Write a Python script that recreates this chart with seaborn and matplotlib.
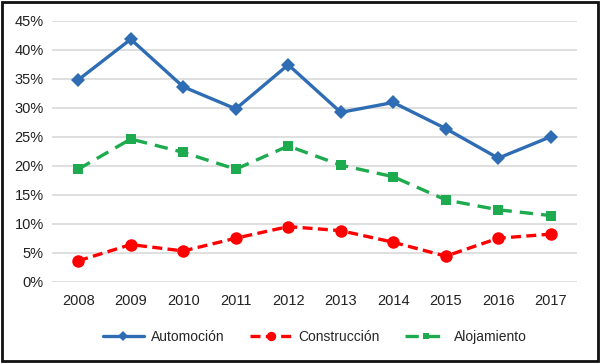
import matplotlib
matplotlib.use("Agg")
import matplotlib.pyplot as plt
import seaborn as sns
import pandas as pd
from matplotlib.patches import Rectangle
from matplotlib.ticker import PercentFormatter

years = ["2008", "2009", "2010", "2011", "2012", "2013", "2014", "2015", "2016", "2017"]
automocion = [34.8, 41.8, 33.6, 29.8, 37.4, 29.2, 30.9, 26.4, 21.3, 25.0]
construccion = [3.6, 6.4, 5.3, 7.5, 9.5, 8.8, 6.8, 4.4, 7.5, 8.2]
alojamiento = [19.4, 24.6, 22.3, 19.4, 23.4, 20.1, 18.1, 14.1, 12.4, 11.4]
series_names = ["Automoción", "Construcción", "Alojamiento"]

df = pd.concat(
    [
        pd.DataFrame({"year": years, "value": vals, "serie": name})
        for name, vals in zip(series_names, [automocion, construccion, alojamiento])
    ]
)

sns.set_style("white")
plt.rcParams["font.family"] = ["Liberation Sans Narrow", "Liberation Sans", "DejaVu Sans"]

fig = plt.figure(figsize=(6, 3.63), dpi=100)
ax = fig.add_axes([52 / 600, 1 - 281.7 / 363, 525 / 600, 261 / 363])

palette = {"Automoción": "#2E6DB4", "Construcción": "#FF0000", "Alojamiento": "#1EAA4E"}
sns.lineplot(
    data=df,
    x="year",
    y="value",
    hue="serie",
    style="serie",
    palette=palette,
    markers={"Automoción": "D", "Construcción": "o", "Alojamiento": "s"},
    dashes={"Automoción": "", "Construcción": (3.0, 1.6), "Alojamiento": (4.0, 2.4)},
    linewidth=2.4,
    markersize=8,
    markeredgewidth=0,
    sort=False,
    ax=ax,
    legend=True,
)
for line in ax.lines:
    if line.get_marker() == "s":
        line.set_markersize(6.5)
    elif line.get_marker() == "o":
        line.set_markersize(9)
    elif line.get_marker() == "D":
        line.set_markersize(7)

ax.set_xlim(-0.5, len(years) - 0.5)
ax.set_ylim(0, 45)
ax.set_yticks(range(0, 46, 5))
ax.yaxis.set_major_formatter(PercentFormatter(decimals=0))
ax.grid(axis="y", color="#D9D9D9", linewidth=1.2)
ax.set_axisbelow(True)
for s in ax.spines.values():
    s.set_visible(False)
ax.tick_params(axis="both", labelsize=10.5, colors="#222222", length=0, pad=6)
ax.tick_params(axis="x", pad=9)
ax.set_xlabel("")
ax.set_ylabel("")

handles, labels = ax.get_legend_handles_labels()
leg = ax.legend(
    handles,
    labels,
    loc="center",
    bbox_to_anchor=(0.5, -0.21),
    ncol=3,
    frameon=False,
    fontsize=10,
    handlelength=3.0,
    columnspacing=1.8,
    handletextpad=0.5,
    markerscale=0.75,
)

fig.patches.append(
    Rectangle((0.004, 0.006), 0.992, 0.988, transform=fig.transFigure,
              fill=False, edgecolor="#111111", linewidth=2)
)

fig.savefig("out.png", dpi=100)
